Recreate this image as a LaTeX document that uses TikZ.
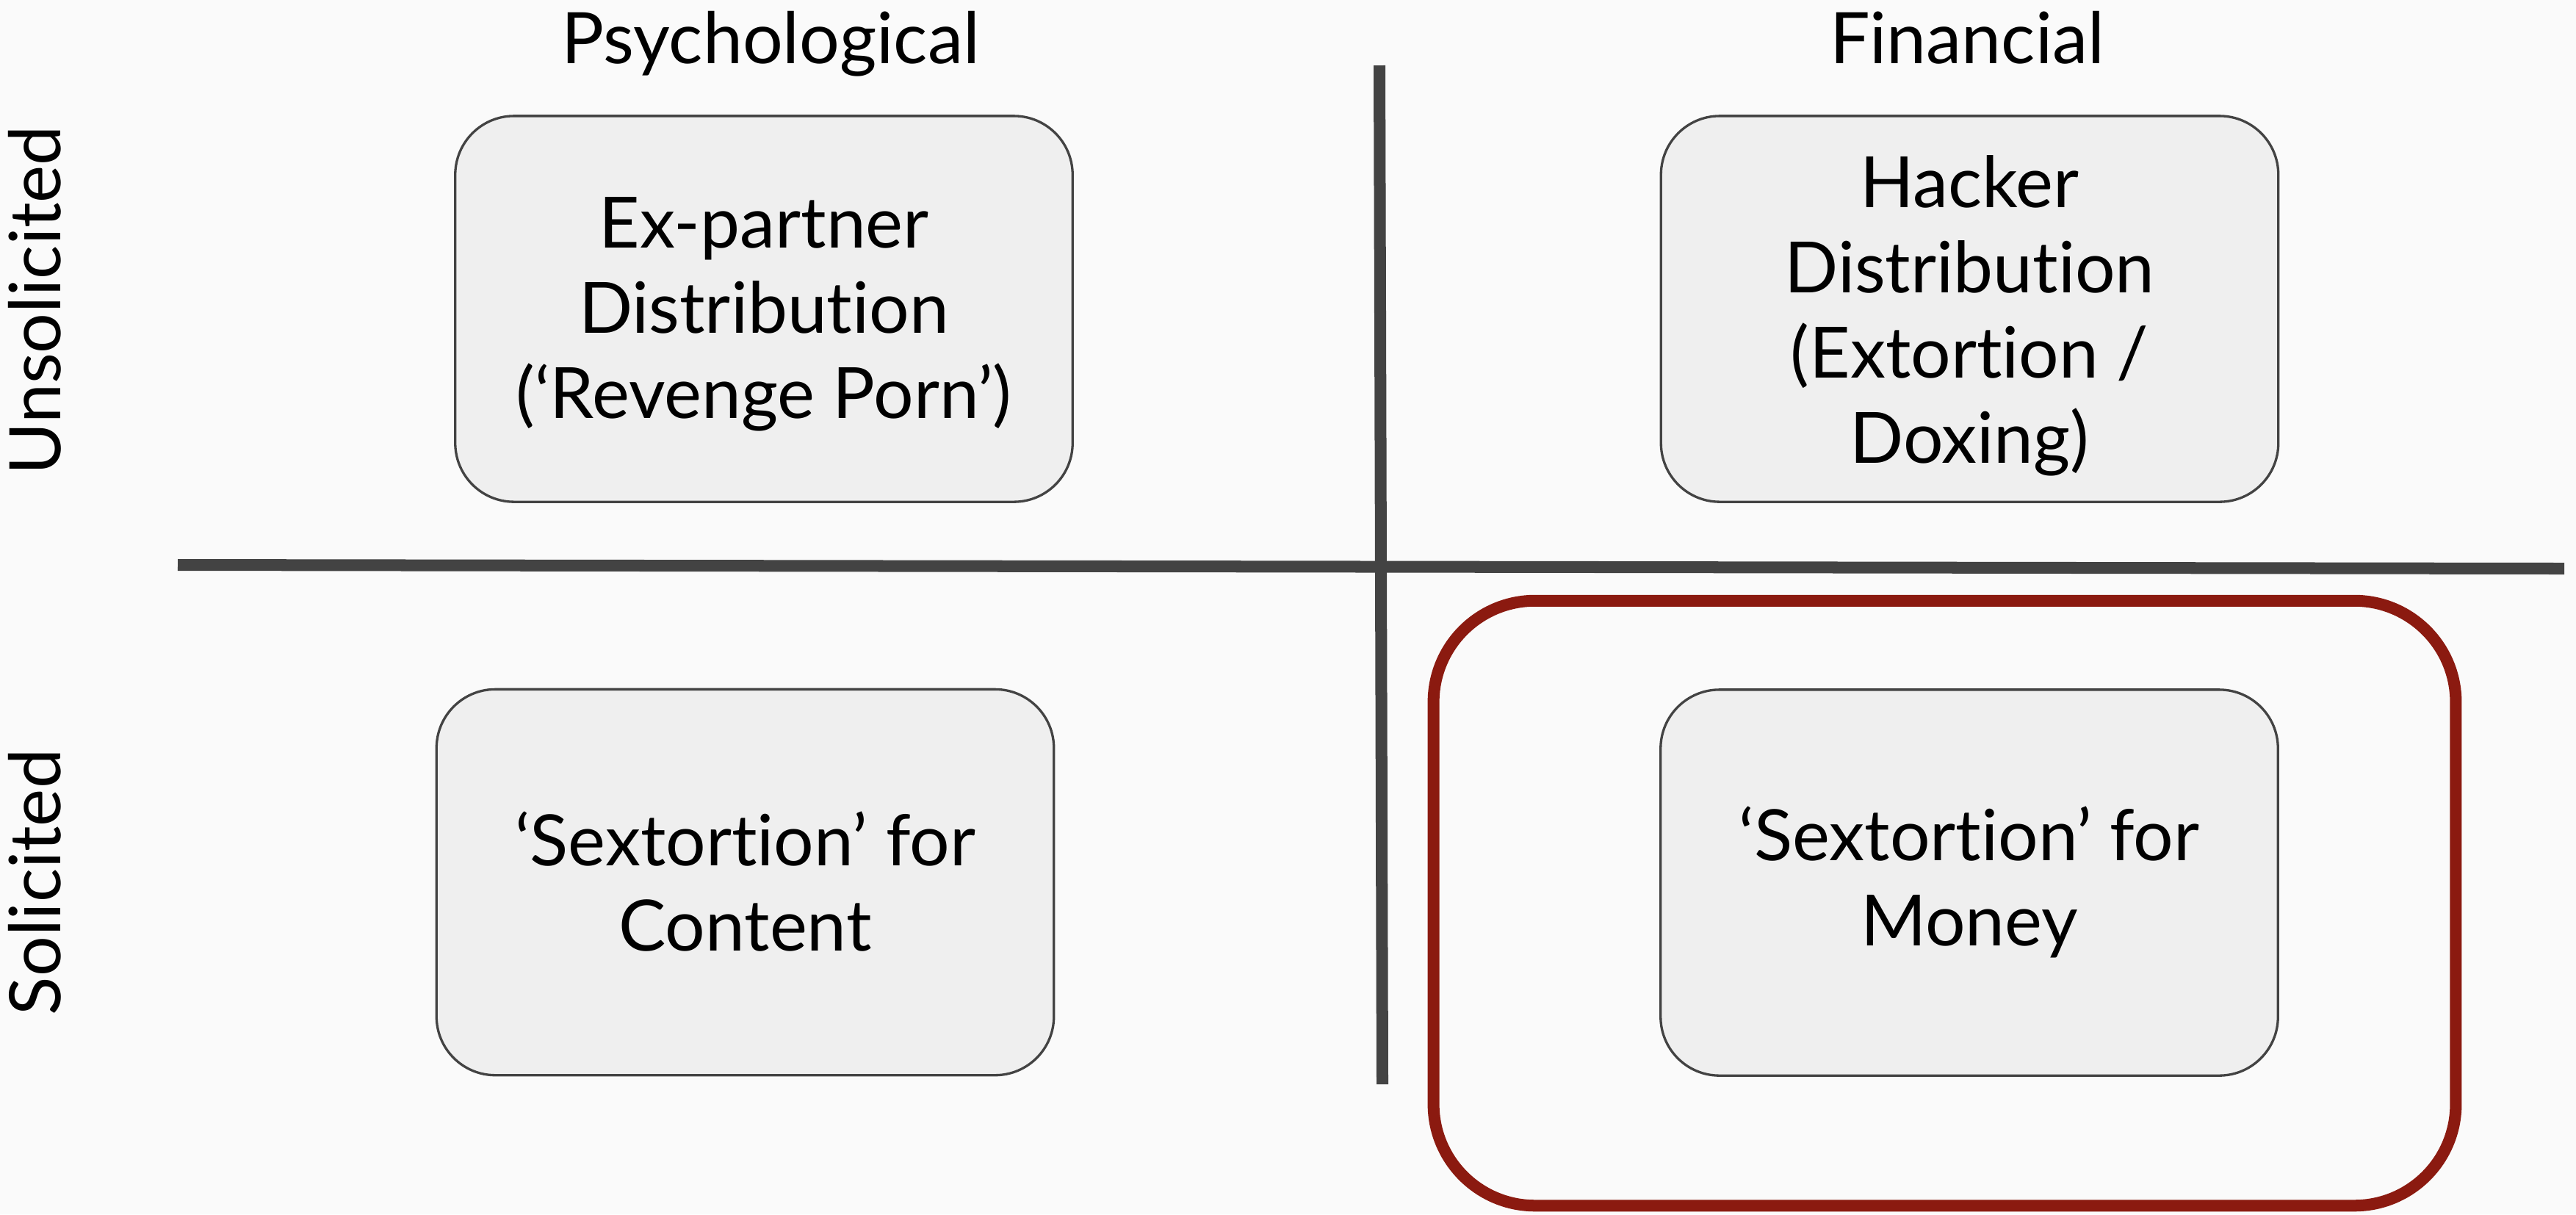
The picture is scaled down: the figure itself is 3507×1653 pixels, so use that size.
\documentclass[tikz,border=0pt]{standalone}
\usepackage{fontspec}
\setmainfont{Lato}[Ligatures={TeX,NoCommon}]
\definecolor{bgc}{HTML}{FAFAFA}
\definecolor{boxfill}{HTML}{EFEFEF}
\definecolor{boxline}{HTML}{434343}
\definecolor{axisline}{HTML}{434343}
\definecolor{hilite}{HTML}{8B1A10}
\tikzset{
  quadbox/.style={rectangle, draw=boxline, fill=boxfill, line width=0.033cm,
    rounded corners=0.8cm, minimum width=8.4cm, minimum height=5.25cm,
    inner sep=0pt},
  boxtext/.style={align=center, inner sep=0pt, font=\fontsize{27.4}{33}\selectfont},
  hilitebox/.style={rectangle, draw=hilite, line width=0.16cm,
    rounded corners=1.38cm, minimum width=13.91cm, minimum height=8.23cm, inner sep=0pt},
  axis/.style={draw=axisline, line width=0.16cm},
  heading/.style={anchor=base, inner sep=0pt, font=\fontsize{27.5}{33}\selectfont},
  sidelabel/.style={anchor=base, rotate=90, inner sep=0pt, font=\fontsize{27.5}{33}\selectfont}
}
\begin{document}
\begin{tikzpicture}[x=0.01cm, y=-0.01cm]
\path[fill=bgc, use as bounding box] (0,0) rectangle (3507,1653);
% headings
\node[heading] (hpsy) at (1049,86) {Psychological};
\node[heading] (hfin) at (2678,86) {Financial};
\node[sidelabel] (lunsol) at (82,409) {Unsolicited};
\node[sidelabel] (lsol) at (82,1201) {Solicited};
% axes
\coordinate (v1) at (1878,89);
\coordinate (v2) at (1882,1476);
\coordinate (h1) at (242,769);
\coordinate (h2) at (3491,774);
\draw[axis] (v1) -- (v2);
\draw[axis] (h1) -- (h2);
% highlight
\node[hilitebox] (hl) at (2647.5,1229.5) {};
% boxes
\node[quadbox] (tl) at (1040,420.5) {};
\node[quadbox] (tr) at (2681.5,420.5) {};
\node[quadbox] (bl) at (1014.5,1201) {};
\node[quadbox] (br) at (2681,1201.5) {};
\node[boxtext] (tltext) at ([yshift=-0.07cm]tl.center) {Ex-partner\\Distribution\\(‘Revenge Porn’)};
\node[boxtext] (trtext) at ([yshift=-0.09cm]tr.center) {Hacker\\Distribution\\(Extortion /\\Doxing)};
\node[boxtext] (bltext) at ([yshift=0.01cm]bl.center) {‘Sextortion’ for\\Content};
\node[boxtext] (brtext) at ([yshift=0.01cm]br.center) {‘Sextortion’ for\\Money};
\end{tikzpicture}
\end{document}
